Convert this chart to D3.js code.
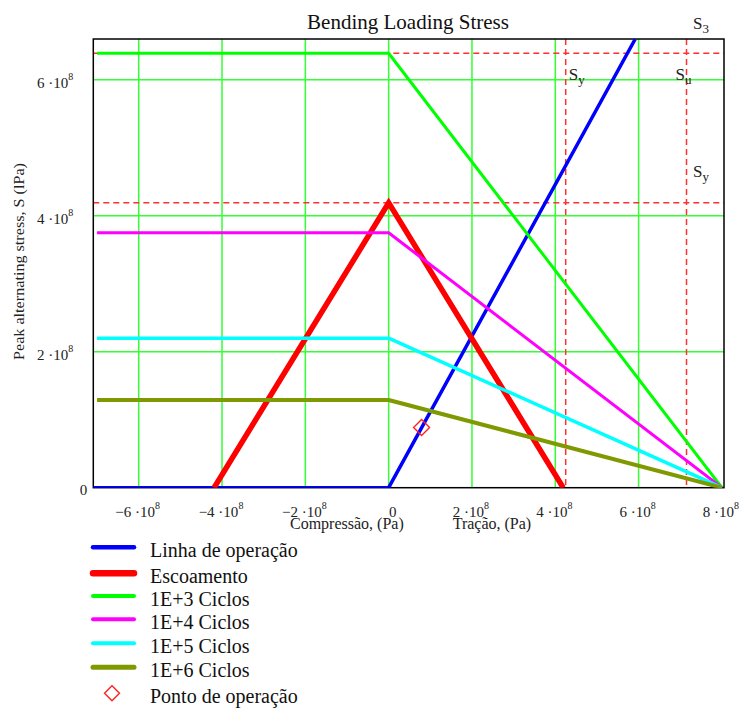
<!DOCTYPE html>
<html>
<head>
<meta charset="utf-8">
<script src="https://cdn.jsdelivr.net/npm/d3@7"></script>
<style>
  html, body { margin: 0; padding: 0; background: #fff; }
  svg { display: block; font-family: "Liberation Serif", "DejaVu Serif", serif; }
</style>
</head>
<body>
<svg id="chart" width="744" height="709"></svg>
<script>
// ---------- data ----------
const title = "Bending Loading Stress";
const yAxisLabel = "Peak alternating stress, S (lPa)";
const xLabelLeft = "Compressão, (Pa)";
const xLabelRight = "Tração, (Pa)";

const xDomain = [-7.09e8, 8.05e8];
const yDomain = [0, 6.6e8];
const xTicks = [-6e8, -4e8, -2e8, 0, 2e8, 4e8, 6e8, 8e8];
const yTicks = [0, 2e8, 4e8, 6e8];

// reference lines (dashed)
const hMarkers = [4.19e8, 6.39e8];        // Sy, S3
const vMarkers = [4.25e8, 7.15e8];        // Sy, Su

// series
const opLineX = [-7.09e8, 0, 5.92e8];
const opLineY = [0, 0, 6.6e8];
const yieldX = [-4.19e8, 0, 4.19e8];
const yieldY = [0, 4.19e8, 0];
const cycleNames = ["1E+3 Ciclos", "1E+4 Ciclos", "1E+5 Ciclos", "1E+6 Ciclos"];
const cycleLevels = [6.39e8, 3.75e8, 2.2e8, 1.29e8];
const cycleX = [-7.0e8, 0, 8e8];
const opPoint = [0.79e8, 0.885e8];

const legendNames = ["Linha de operação", "Escoamento", "1E+3 Ciclos", "1E+4 Ciclos", "1E+5 Ciclos", "1E+6 Ciclos", "Ponto de operação"];

// ---------- styles ----------
const colors = {
  op: "#0000ff", yield: "#ff0000",
  cycles: ["#00ff00", "#ff00ff", "#00ffff", "#7f9900"],
  grid: "#33ff33", dash: "#ff3030"
};
const widths = { op: 3.5, yield: 5.5, cycles: [3, 3, 3.5, 4] };

// ---------- layout ----------
const svg = d3.select("#chart");
const L = 93.3, R = 724, T = 39, B = 487.7;
const x = d3.scaleLinear().domain(xDomain).range([L, R]);
const y = d3.scaleLinear().domain(yDomain).range([B, T]);

svg.append("rect").attr("width", 744).attr("height", 709).attr("fill", "#fff");

svg.append("defs").append("clipPath").attr("id", "clip")
  .append("rect").attr("x", L).attr("y", T).attr("width", R - L).attr("height", B - T);

// grid
const grid = svg.append("g");
grid.selectAll(".gx").data(xTicks.filter(d => d > xDomain[0] && d < 7.9e8)).join("line")
  .attr("x1", d => x(d)).attr("x2", d => x(d)).attr("y1", T).attr("y2", B)
  .attr("stroke", colors.grid).attr("stroke-width", 1.5);
grid.selectAll(".gy").data(yTicks.filter(d => d > 0)).join("line")
  .attr("x1", L).attr("x2", R).attr("y1", d => y(d)).attr("y2", d => y(d))
  .attr("stroke", colors.grid).attr("stroke-width", 1.5);

// dashed markers
const dash = svg.append("g");
dash.selectAll(".h").data(hMarkers).join("line")
  .attr("x1", L).attr("x2", R).attr("y1", d => y(d)).attr("y2", d => y(d))
  .attr("stroke", colors.dash).attr("stroke-width", 1.5).attr("stroke-dasharray", "6,4");
dash.selectAll(".v").data(vMarkers).join("line")
  .attr("x1", d => x(d)).attr("x2", d => x(d)).attr("y1", T).attr("y2", B)
  .attr("stroke", colors.dash).attr("stroke-width", 1.5).attr("stroke-dasharray", "6,4");

// frame
svg.append("rect").attr("x", L).attr("y", T).attr("width", R - L).attr("height", B - T)
  .attr("fill", "none").attr("stroke", "#000").attr("stroke-width", 1.5);

// series
const line = d3.line().x(d => x(d[0])).y(d => y(d[1]));
const plot = svg.append("g").attr("clip-path", "url(#clip)");

plot.append("path").datum(opLineX.map((v, i) => [v, opLineY[i]]))
  .attr("d", line).attr("fill", "none").attr("stroke", colors.op).attr("stroke-width", widths.op);
plot.append("path").datum(yieldX.map((v, i) => [v, yieldY[i]]))
  .attr("d", line).attr("fill", "none").attr("stroke", colors.yield).attr("stroke-width", widths.yield);
cycleLevels.forEach((lv, i) => {
  plot.append("path").datum([[cycleX[0], lv], [cycleX[1], lv], [cycleX[2], 0]])
    .attr("d", line).attr("fill", "none").attr("stroke", colors.cycles[i])
    .attr("stroke-width", widths.cycles[i]).attr("stroke-linejoin", "round");
});

// operating point diamond
function diamond(g, cx, cy, r) {
  g.append("path")
    .attr("d", `M${cx},${cy - r}L${cx + r},${cy}L${cx},${cy + r}L${cx - r},${cy}Z`)
    .attr("fill", "none").attr("stroke", "#ff2020").attr("stroke-width", 1.4);
}
diamond(svg, x(opPoint[0]), y(opPoint[1]), 8);

// tick labels
function expLabel(g, v, px, py, anchor) {
  const t = g.append("text").attr("x", px).attr("y", py).attr("text-anchor", anchor)
    .attr("font-size", 15).attr("fill", "#222");
  if (v === 0) { t.text("0"); return t; }
  const m = v / 1e8;
  t.append("tspan").text((m < 0 ? "\u2212" : "") + Math.abs(m) + " \u00b710");
  t.append("tspan").attr("dy", -8).attr("font-size", 10).text("8");
  return t;
}
const tl = svg.append("g");
xTicks.forEach(v => expLabel(tl, v, x(v) + (v === 0 ? 4 : -1), B + 29, "middle"));
yTicks.forEach(v => {
  if (v === 0) expLabel(tl, v, L - 6, y(v) + 7, "end");
  else expLabel(tl, v, L - 20, y(v) + 8.5, "end");
});

// axis labels
svg.append("text").attr("x", 290).attr("y", B + 41).attr("font-size", 16).attr("fill", "#222").text(xLabelLeft);
svg.append("text").attr("x", 452.7).attr("y", B + 41).attr("font-size", 16).attr("fill", "#222").text(xLabelRight);
svg.append("text").attr("transform", `translate(24,${(163 + 360) / 2}) rotate(-90)`)
  .attr("text-anchor", "middle").attr("font-size", 15.5).attr("fill", "#222")
  .attr("textLength", 197).attr("lengthAdjust", "spacingAndGlyphs").text(yAxisLabel);

// title
svg.append("text").attr("x", 408).attr("y", 29).attr("text-anchor", "middle")
  .attr("font-size", 21).attr("fill", "#111").text(title);

// marker labels (S with subscript)
function sLabel(px, py, sub) {
  const t = svg.append("text").attr("x", px).attr("y", py).attr("font-size", 17).attr("fill", "#222");
  t.append("tspan").text("S");
  t.append("tspan").attr("dy", 4).attr("font-size", 13).text(sub);
}
sLabel(x(xDomain[1]) - 31, 29, "3");
sLabel(x(vMarkers[0]) + 3, 80, "y");
sLabel(x(vMarkers[1]) - 11, 80, "u");
sLabel(x(xDomain[1]) - 31, 177, "y");

// legend
const lg = svg.append("g");
const legColors = [colors.op, colors.yield].concat(colors.cycles);
const legWidths = [4.5, 6.5, 4, 4, 4, 5];
const legY = [547.3, 573.3, 596, 619.3, 643.3, 667.3, 693.3];
legendNames.forEach((name, i) => {
  if (i < 6) {
    lg.append("line").attr("x1", 93).attr("x2", 134).attr("y1", legY[i]).attr("y2", legY[i])
      .attr("stroke", legColors[i]).attr("stroke-width", legWidths[i]).attr("stroke-linecap", "round");
  } else {
    diamond(lg, 112, legY[i], 7.5);
  }
  lg.append("text").attr("x", 150).attr("y", legY[i] + (i < 6 ? 9.5 : 9.5))
    .attr("font-size", 20).attr("fill", "#111").text(name);
});
</script>
</body>
</html>
